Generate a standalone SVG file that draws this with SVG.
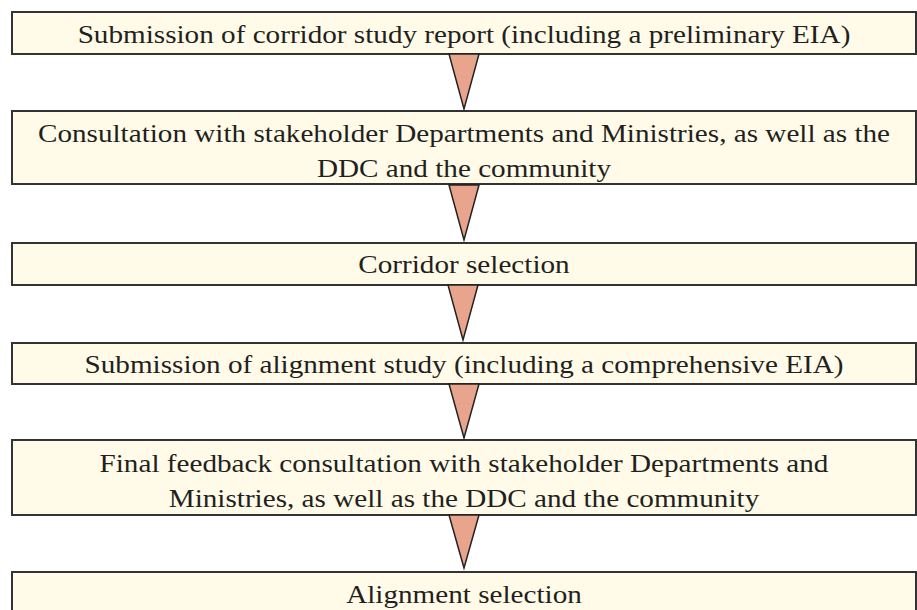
<svg xmlns="http://www.w3.org/2000/svg" width="917" height="610" viewBox="0 0 917 610">
<style>
.box{fill:#fffbe8;stroke:#333;stroke-width:2}
.t{font-family:'Liberation Serif','Times New Roman',serif;font-size:26px;fill:#231f20;text-anchor:middle}
.arr{fill:#e8a48c;stroke:#222;stroke-width:1.5;stroke-linejoin:miter}
</style>
<rect width="917" height="610" fill="#fff"/>
<g id="n1"><rect class="box" x="12" y="12" width="904" height="42"/><text class="t" x="464" y="43" transform="matrix(1.122,0,0,1,-56.6,0)">Submission of corridor study report (including a preliminary EIA)</text></g>
<g id="n2"><rect class="box" x="12" y="111" width="904" height="73"/><text class="t" x="464" y="142" transform="matrix(1.122,0,0,1,-56.6,0)">Consultation with stakeholder Departments and Ministries, as well as the</text><text class="t" x="464" y="177" transform="matrix(1.122,0,0,1,-56.6,0)">DDC and the community</text></g>
<g id="n3"><rect class="box" x="12" y="243" width="904" height="42"/><text class="t" x="464" y="273" transform="matrix(1.122,0,0,1,-56.6,0)">Corridor selection</text></g>
<g id="n4"><rect class="box" x="12" y="343" width="904" height="41"/><text class="t" x="464" y="373" transform="matrix(1.122,0,0,1,-56.6,0)">Submission of alignment study (including a comprehensive EIA)</text></g>
<g id="n5"><rect class="box" x="12" y="440" width="904" height="75"/><text class="t" x="464" y="472" transform="matrix(1.122,0,0,1,-56.6,0)">Final feedback consultation with stakeholder Departments and</text><text class="t" x="464" y="507" transform="matrix(1.122,0,0,1,-56.6,0)">Ministries, as well as the DDC and the community</text></g>
<g id="n6"><rect class="box" x="12" y="572" width="904" height="50"/><text class="t" x="464" y="603" transform="matrix(1.122,0,0,1,-56.6,0)">Alignment selection</text></g>
<g id="connectors">
<polygon class="arr" points="449,54 479,54 464,109"/>
<polygon class="arr" points="449,185 479,185 464,240"/>
<polygon class="arr" points="448,285 478,285 463,340"/>
<polygon class="arr" points="449,384 479,384 464,438"/>
<polygon class="arr" points="449,515 479,515 464,568"/>
</g>
</svg>
